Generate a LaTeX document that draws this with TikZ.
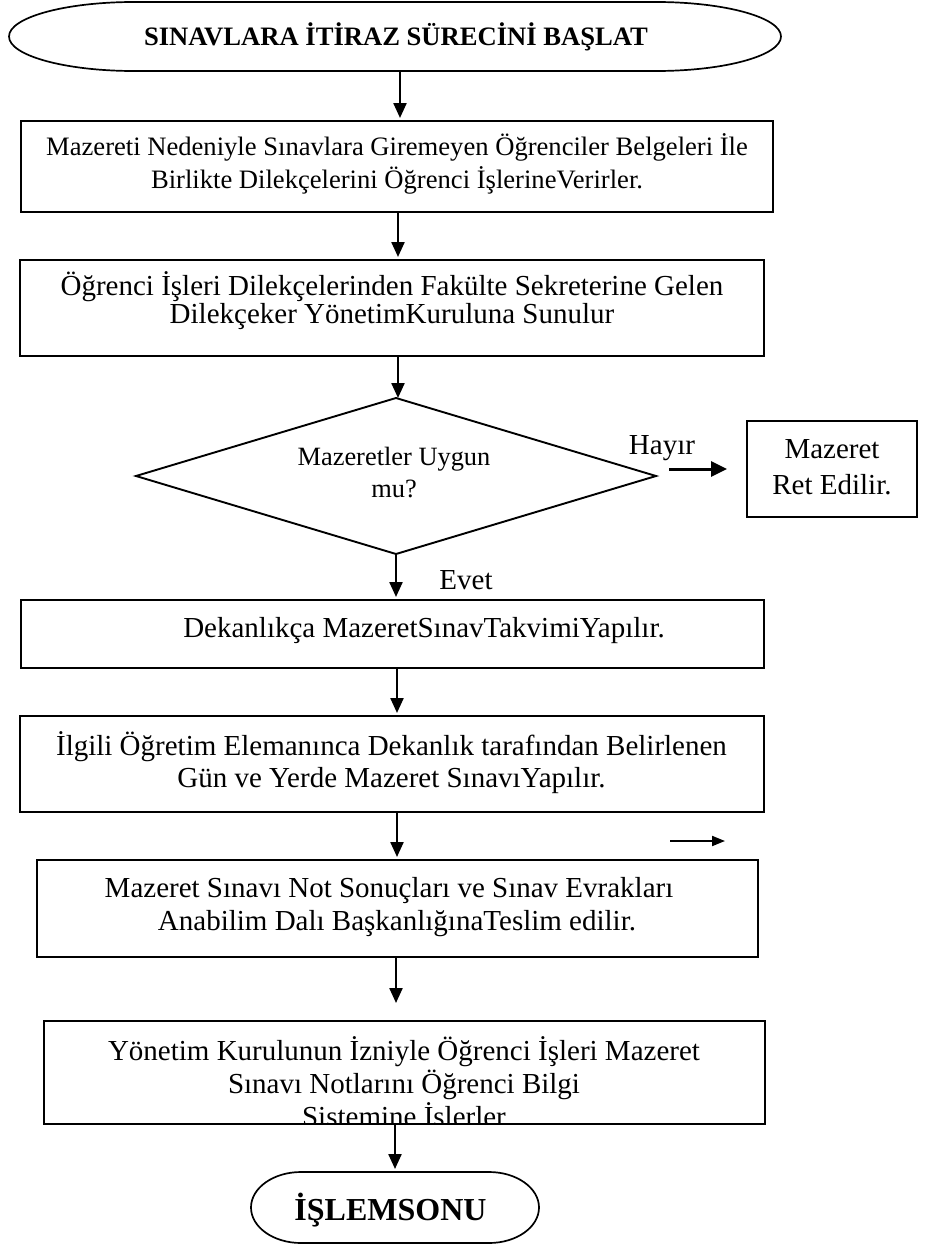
\documentclass[tikz,border=0pt]{standalone}
\usepackage{fontspec}
\setmainfont{Liberation Serif}
\usetikzlibrary{arrows.meta,shapes.geometric,calc}
% centred multi-line block whose reference point is the first baseline
\newcommand{\blocktext}[1]{\parbox[t]{760pt}{\lineskiplimit=-100pt\centering #1}}
\begin{document}
\begin{tikzpicture}[x=1pt,y=-1pt,
  every node/.style={inner sep=0pt,outer sep=0pt},
  frame/.style={draw,rectangle,line width=1.7pt},
  holder/.style={rectangle},
  flow/.style={line width=2.3pt,-{Triangle[length=15pt,width=13pt]},shorten >=3pt},
  txt/.style={anchor=base,font=\fontsize{29}{32}\selectfont},
  outline/.style={line width=1.7pt}]
\useasboundingbox (0,0) rectangle (924,1245);
\fill[white] (0,0) rectangle (924,1245);

% ---- terminals (flat top, elliptic ends)
\node[holder,minimum width=772pt,minimum height=69pt] (start) at (395,36.5) {};
\draw[outline] ($(start.north west)+(125pt,0)$) -- ($(start.north east)+(-125pt,0)$)
  arc[start angle=90,end angle=-90,x radius=125pt,y radius=34.5pt]
  -- ($(start.south west)+(125pt,0)$)
  arc[start angle=270,end angle=90,x radius=125pt,y radius=34.5pt] -- cycle;
\node[anchor=base,font=\fontsize{26.6}{30}\selectfont\bfseries] (starttxt) at (396,45)
  {SINAVLARA İTİRAZ SÜRECİNİ BAŞLAT};

\node[holder,minimum width=288pt,minimum height=71pt] (stop) at (395,1207.5) {};
\draw[outline] ($(stop.north west)+(50pt,0)$) -- ($(stop.north east)+(-50pt,0)$)
  arc[start angle=90,end angle=-90,x radius=50pt,y radius=35.5pt]
  -- ($(stop.south west)+(50pt,0)$)
  arc[start angle=270,end angle=90,x radius=50pt,y radius=35.5pt] -- cycle;
\node[anchor=base,font=\fontsize{32}{36}\selectfont\bfseries] (stoptxt) at (390.5,1220) {İŞLEMSONU};

% ---- process boxes
\node[frame,minimum width=752pt,minimum height=91pt] (b1) at (397,166.5) {};
\node[anchor=base,font=\fontsize{26.6}{33}\selectfont] (t1) at (397,155)
  {\blocktext{Mazereti Nedeniyle Sınavlara Giremeyen Öğrenciler Belgeleri İle\\
   Birlikte Dilekçelerini Öğrenci İşlerineVerirler.}};

\node[frame,minimum width=744pt,minimum height=96pt] (b2) at (392,308) {};
\node[anchor=base,font=\fontsize{29}{28}\selectfont] (t2) at (392,295)
  {\blocktext{Öğrenci İşleri Dilekçelerinden Fakülte Sekreterine Gelen\\
   Dilekçeker YönetimKuruluna Sunulur}};

% ---- decision
\node[draw,diamond,line width=1.9pt,aspect=3.33,minimum width=520pt,minimum height=156pt] (dec) at (396,476) {};
\node[anchor=base,font=\fontsize{26.4}{32}\selectfont] (tdec) at (394,465)
  {\blocktext{Mazeretler Uygun\\mu?}};

\node[frame,minimum width=170pt,minimum height=96pt] (rej) at (832,469) {};
\node[anchor=base,font=\fontsize{29}{36}\selectfont] (trej) at (832,458)
  {\blocktext{Mazeret\\Ret Edilir.}};

\node[txt] (no) at (662,454) {Hayır};
\node[txt] (yes) at (466,589) {Evet};

\node[frame,minimum width=743pt,minimum height=68pt] (b3) at (392.5,634) {};
\node[txt] (t3) at (424,637) {Dekanlıkça MazeretSınavTakvimiYapılır.};

\node[frame,minimum width=744pt,minimum height=96pt] (b4) at (392,764) {};
\node[anchor=base,font=\fontsize{29}{32}\selectfont] (t4) at (391.5,755)
  {\blocktext{İlgili Öğretim Elemanınca Dekanlık tarafından Belirlenen\\
   Gün ve Yerde Mazeret SınavıYapılır.}};

\node[frame,minimum width=721pt,minimum height=97pt] (b5) at (397.5,908.5) {};
\node[anchor=base,font=\fontsize{29}{33}\selectfont] (t5) at (389,897)
  {\blocktext{Mazeret Sınavı Not Sonuçları ve Sınav Evrakları\\
   \hspace*{16pt}Anabilim Dalı BaşkanlığınaTeslim edilir.}};

\node[frame,minimum width=721pt,minimum height=103pt] (b6) at (404.5,1072.5) {};
\begin{scope}
  \clip (b6.north west) rectangle (b6.south east);
  \node[anchor=base,font=\fontsize{29}{33}\selectfont] (t6) at (404,1060)
    {\blocktext{Yönetim Kurulunun İzniyle Öğrenci İşleri Mazeret\\
     Sınavı Notlarını Öğrenci Bilgi\\
     Sistemine İşlerler}};
\end{scope}
\draw[line width=1.7pt] (b6.south west) -- (b6.south east);

% ---- connectors
\coordinate (x400) at (400,0);
\coordinate (x398) at (398,0);
\coordinate (x397) at (397,0);
\coordinate (x396) at (396,0);
\coordinate (x395) at (395,0);
\draw[flow] (start.south -| x400) -- (b1.north -| x400);
\draw[flow] (b1.south -| x398) -- (b2.north -| x398);
\draw[flow,shorten >=0pt] (b2.south -| x398) -- (dec.north -| x398);
\draw[flow] (dec.south) -- (b3.north -| dec.south);
\draw[flow] (b3.south -| x397) -- (b4.north -| x397);
\draw[flow] (b4.south -| x397) -- (b5.north -| x397);
\draw[flow,shorten >=18pt] (b5.south -| x396) -- (b6.north -| x396);
\draw[flow] (b6.south -| x395) -- (stop.north -| x395);

\coordinate (h1) at (669,469);
\coordinate (h2) at (727,469);
\draw[line width=3pt,-{Triangle[length=16pt,width=15pt]}] (h1) -- (h2);

\coordinate (s1) at (670,841);
\coordinate (s2) at (725,841);
\draw[line width=2pt,-{Triangle[length=13pt,width=10pt]}] (s1) -- (s2);
\end{tikzpicture}
\end{document}
